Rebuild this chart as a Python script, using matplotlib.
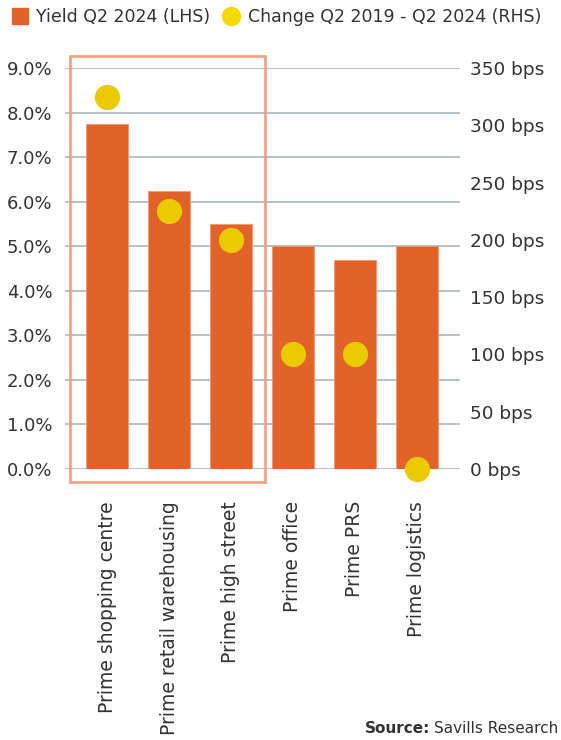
import matplotlib
matplotlib.use("Agg")
import matplotlib.pyplot as plt
from matplotlib.patches import Rectangle
from matplotlib.lines import Line2D
from matplotlib.ticker import FuncFormatter

# ----------------------------
# Data
# ----------------------------
sectors = ["Prime shopping centre", "Prime retail warehousing", "Prime high street",
           "Prime office", "Prime PRS", "Prime logistics"]
yield_q2_2024 = [7.75, 6.25, 5.5, 5.0, 4.7, 5.0]       # % (LHS)
change_bps = [325, 225, 200, 100, 100, 0]              # bps (RHS)

left_ticks = list(range(0, 10))
right_ticks = list(range(0, 351, 50))

BAR = "#E2632A"
DOT = "#EBCB00"
TXT = "#333333"
GRID = "#B4BBC4"
BOX = "#F0A07E"

plt.rcParams["font.family"] = ["DejaVu Sans"]

fig = plt.figure(figsize=(5.61, 7.40), dpi=100)
ax = fig.add_axes([0.1159, 0.3662, 0.7041, 0.5419])

x = list(range(len(sectors)))
ax.bar(x, yield_q2_2024, width=0.68, color=BAR, edgecolor="#EE9A72", linewidth=0.6, zorder=2)

ax.set_xlim(-0.68, 5.70)
ax.set_ylim(0, 9)
ax.set_yticks(left_ticks)
ax.yaxis.set_major_formatter(FuncFormatter(lambda v, p: f"{v:.1f}%"))
ax.grid(axis="y", color=GRID, linewidth=1.3, zorder=0)
ax.set_axisbelow(True)
ax.tick_params(axis="y", length=0, pad=9, labelsize=13, labelcolor=TXT)
ax.set_xticks(x)
ax.set_xticklabels(sectors, rotation=90, ha="center", va="top")
ax.tick_params(axis="x", length=0, pad=23, labelsize=13.5, labelcolor=TXT)
for s in ax.spines.values():
    s.set_visible(False)

# highlight box round the retail sectors
ax.add_patch(Rectangle((-0.60, -0.29), 3.15, 9.56, fill=False, edgecolor=BOX,
                       linewidth=1.9, clip_on=False, zorder=3))

# change in bps on the right axis
ax2 = ax.twinx()
ax2.scatter(x, change_bps, s=330, color=DOT, zorder=4, clip_on=False, linewidths=0)
ax2.set_ylim(0, 350)
ax2.set_yticks(right_ticks)
ax2.set_yticklabels([f"{t} bps" for t in right_ticks])
ax2.tick_params(axis="y", length=0, pad=7, labelsize=13.3, labelcolor=TXT)
for s in ax2.spines.values():
    s.set_visible(False)

# legend
handles = [
    Line2D([], [], marker="s", linestyle="none", markersize=12, color=BAR),
    Line2D([], [], marker="o", linestyle="none", markersize=13, color="#F5DA00"),
]
fig.legend(handles, ["Yield Q2 2024 (LHS)", "Change Q2 2019 - Q2 2024 (RHS)"],
           loc="upper left", bbox_to_anchor=(-0.008, 1.01), ncol=2, frameon=False,
           handletextpad=0.45, columnspacing=0.7, handlelength=1.0,
           fontsize=12.5, labelcolor=TXT)

# source
fig.text(0.995, 0.006, "Savills Research", ha="right", va="bottom", fontsize=11, color=TXT)
fig.text(0.995 - 0.228, 0.006, "Source:", ha="right", va="bottom", fontsize=11,
         color=TXT, fontweight="bold")

fig.savefig("out.png", dpi=100)
